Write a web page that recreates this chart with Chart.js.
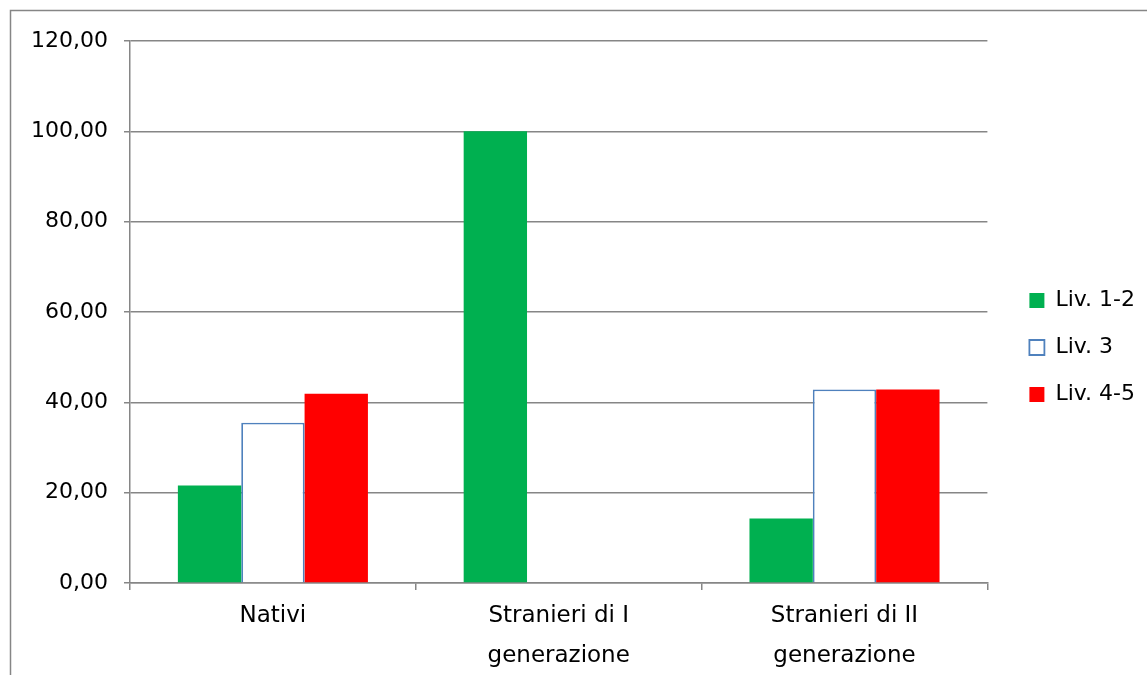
<!DOCTYPE html>
<html><head><meta charset="utf-8">
<script src="https://cdn.jsdelivr.net/npm/chart.js@4"></script>
<style>html,body{margin:0;padding:0;background:#fff}</style>
</head><body>
<canvas id="c" width="1147" height="675"></canvas>
<script>
const categories = [['Nativi'], ['Stranieri di I', 'generazione'], ['Stranieri di II', 'generazione']];
const seriesNames = ['Liv. 1-2', 'Liv. 3', 'Liv. 4-5'];
const liv12 = [21.6, 100.0, 14.29];
const liv3 = [35.5, 0, 42.86];
const liv45 = [41.9, 0, 42.86];
const yMin = 0, yMax = 120, yStep = 20;

const FONT = 'DejaVu Sans';
const GRID = '#868686';

const frame = {
  id: 'frame',
  beforeDraw(chart) {
    const ctx = chart.ctx;
    ctx.save();
    ctx.fillStyle = '#fff';
    ctx.fillRect(0, 0, chart.width, chart.height);
    ctx.strokeStyle = GRID;
    ctx.lineWidth = 1.5;
    ctx.strokeRect(10.5, 10.5, chart.width + 50, chart.height + 50);
    ctx.restore();
  }
};

new Chart(document.getElementById('c'), {
  type: 'bar',
  data: {
    labels: categories,
    datasets: [
      { label: seriesNames[0], data: liv12, backgroundColor: '#00B050', borderWidth: 0 },
      { label: seriesNames[1], data: liv3, backgroundColor: '#FFFFFF', borderColor: '#4F81BD', borderWidth: 1.8 },
      { label: seriesNames[2], data: liv45, backgroundColor: '#FF0000', borderWidth: 0 }
    ]
  },
  options: {
    responsive: false,
    animation: false,
    devicePixelRatio: 1,
    layout: { padding: { top: 41, left: 0, right: 2, bottom: 0 } },
    datasets: { bar: { categoryPercentage: 0.665, barPercentage: 1.0 } },
    plugins: {
      tooltip: { enabled: false },
      legend: {
        position: 'right',
        align: 'center',
        fullSize: false,
        title: { display: true, text: ' ', font: { family: FONT, size: 11, lineHeight: 1 }, padding: { top: 30, bottom: 30 } },
        labels: {
          boxWidth: 15, boxHeight: 15, padding: 25,
          color: '#000',
          font: { family: FONT, size: 22 }
        }
      }
    },
    scales: {
      x: {
        grid: { display: true, drawOnChartArea: false, drawTicks: true, tickLength: 7, color: GRID, lineWidth: 1.5, offset: true },
        border: { display: true, color: GRID, width: 1.5 },
        ticks: { color: '#000', font: { family: FONT, size: 23, lineHeight: 1.75 }, padding: 6, maxRotation: 0, autoSkip: false },
        afterFit(s) { s.height = 92; }
      },
      y: {
        min: yMin, max: yMax,
        ticks: {
          stepSize: yStep, color: '#000', padding: 16,
          font: { family: FONT, size: 22 },
          callback: v => v.toFixed(2).replace('.', ',')
        },
        grid: { color: GRID, lineWidth: 1.5, tickLength: 6, drawTicks: true },
        border: { display: true, color: GRID, width: 1.5 },
        afterFit(s) { s.width = 130; }
      },
      gap: {
        type: 'linear', position: 'right', display: true,
        grid: { display: false }, border: { display: false }, ticks: { display: false },
        afterFit(s) { s.width = 17; }
      }
    }
  },
  plugins: [frame]
});
</script>
</body></html>
